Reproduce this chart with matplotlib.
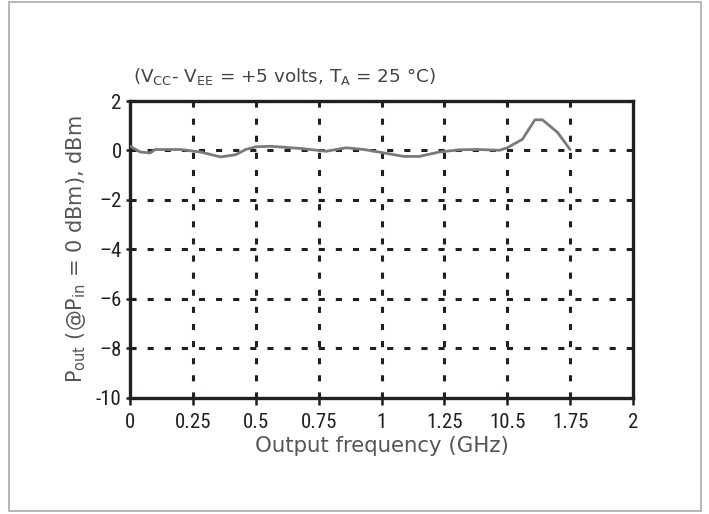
import matplotlib
matplotlib.use('Agg')
import matplotlib.pyplot as plt
from matplotlib import font_manager
from matplotlib.patches import Rectangle

# pick a narrow sans for the tick numbers, if one is installed
narrow_names = ['Liberation Sans Narrow', 'Roboto Condensed', 'Open Sans Condensed',
                'Noto Sans Condensed', 'DejaVu Sans Condensed', 'Arial Narrow']
narrow_family = 'DejaVu Sans'
narrow_stretch = 'normal'
for f in font_manager.fontManager.ttflist:
    if f.name in narrow_names:
        narrow_family, narrow_stretch = f.name, 'normal'
        break
else:
    for f in font_manager.fontManager.ttflist:
        if f.name in ('Roboto', 'Noto Sans', 'Open Sans', 'DejaVu Sans') and \
                f.stretch in ('condensed', 'semi-condensed', 'extra-condensed'):
            narrow_family, narrow_stretch = f.name, f.stretch
            break

plt.rcParams['font.family'] = ['DejaVu Sans']

# output power
freq_ghz = [0, 0.04, 0.08, 0.10, 0.20, 0.28, 0.36, 0.42, 0.46, 0.50, 0.56, 0.68,
            0.78, 0.86, 0.93, 1.01, 1.09, 1.15, 1.23, 1.31, 1.38, 1.47, 1.50,
            1.56, 1.61, 1.64, 1.70, 1.75]
pout_dbm = [0.18, -0.06, -0.10, 0.04, 0.04, -0.06, -0.26, -0.17, 0.04, 0.15, 0.17,
            0.08, -0.03, 0.11, 0.04, -0.10, -0.24, -0.24, -0.06, 0.03, 0.04, 0.01,
            0.11, 0.45, 1.24, 1.24, 0.73, 0.04]

x_ticks = [0, 0.25, 0.5, 0.75, 1, 1.25, 1.5, 1.75, 2]
x_tick_labels = ['0', '0.25', '0.5', '0.75', '1', '1.25', '10.5', '1.75', '2']
y_ticks = [2, 0, -2, -4, -6, -8, -10]
y_tick_labels = ['2', '0', '\u20132', '\u20134', '\u20136', '\u20138', '-10']

dark = '#231f20'

fig = plt.figure(figsize=(7.09, 5.14), dpi=100)
fig.patches.append(Rectangle((0.0127, 0.0058), 0.976, 0.990, transform=fig.transFigure,
                             fill=False, edgecolor='#aaaaaa', linewidth=1.2))

ax = fig.add_axes([0.1834, 0.2257, 0.7094, 0.5778])
ax.plot(freq_ghz, pout_dbm, color='#7a7a7a', linewidth=2.0, zorder=3,
        solid_joinstyle='round', solid_capstyle='round')

ax.set_xlim(0, 2)
ax.set_ylim(-10, 2)
ax.set_xticks(x_ticks)
ax.set_xticklabels(x_tick_labels)
ax.set_yticks(y_ticks)
ax.set_yticklabels(y_tick_labels)
for lab in ax.get_xticklabels() + ax.get_yticklabels():
    lab.set_family([narrow_family, 'DejaVu Sans'])
    lab.set_stretch(narrow_stretch)

grid_style = (0, (2.0, 3.6))
for xv in x_ticks[1:-1]:
    ax.axvline(xv, color=dark, linewidth=2.2, linestyle=grid_style, zorder=2)
for yv in y_ticks[1:-1]:
    ax.axhline(yv, color=dark, linewidth=2.2, linestyle=grid_style, zorder=2)

for s in ax.spines.values():
    s.set_linewidth(2.4)
    s.set_color(dark)

ax.tick_params(axis='x', direction='out', length=5, width=1.8, color=dark,
               labelsize=15, labelcolor=dark, pad=6)
ax.tick_params(axis='y', direction='out', length=3, width=1.8, color=dark,
               labelsize=15, labelcolor=dark, pad=3)

ax.set_xlabel('Output frequency (GHz)', fontsize=15.3, color='#555555', labelpad=3)
ax.set_ylabel(r'P$_{\rm out}$ (@P$_{\rm in}$ = 0 dBm), dBm', fontsize=15,
              color='#555555', labelpad=6)

fig.text(0.187, 0.852, r'(V$_{\rm CC}$- V$_{\rm EE}$ = +5 volts, T$_{\rm A}$ = 25 °C)',
         fontsize=13.2, color='#444444', ha='left', va='center')

fig.savefig('out.png', dpi=100)
